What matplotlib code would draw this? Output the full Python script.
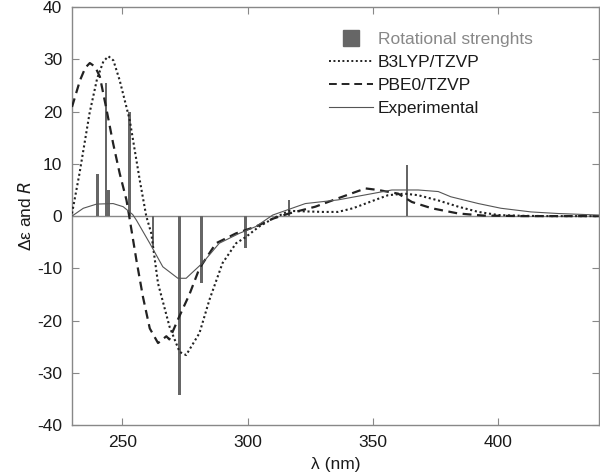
import matplotlib
matplotlib.use("Agg")
import matplotlib.pyplot as plt
from matplotlib.lines import Line2D

plt.rcParams['font.family'] = ['Liberation Sans', 'DejaVu Sans']
plt.rcParams['axes.unicode_minus'] = False

# rotational strengths (sticks)
stick_x = [240.2, 243.6, 244.6, 253.0, 262.3, 273.0, 281.6, 299.3, 316.5, 363.5]
stick_r = [8.0, 25.5, 5.0, 20.0, -6.0, -34.3, -12.9, -6.1, 3.1, 9.8]

# B3LYP/TZVP
b3lyp_x = [230, 233, 237, 240, 242.5, 244.5, 246.5, 249, 253, 257, 259.6, 261.6, 264.3,
           268.9, 272.9, 275.5, 280.8, 284.8, 290, 295.4, 299.3, 304.6, 310, 316.5, 323,
           330, 336, 342, 347, 352, 356, 362.5, 368, 376, 384, 392, 400, 410, 420, 440]
b3lyp_y = [0.5, 8.2, 19.7, 26.3, 29.6, 30.6, 29.8, 26, 18.4, 6.9, 0, -3.3, -12.9,
           -21.2, -26, -26.6, -22.4, -16, -9, -5.2, -4, -2, -0.5, 1, 0.9,
           0.8, 0.8, 1.5, 2.4, 3.3, 4, 4.3, 4, 3, 1.8, 0.8, 0.2, 0.05, 0, 0]

# PBE0/TZVP
pbe0_x = [230, 233.2, 235.3, 237.1, 239.2, 241.1, 243.8, 246.4, 249, 251.7, 252.8, 255.7,
          258.3, 261, 264.3, 267.6, 268.8, 272.5, 276.8, 280.8, 287.4, 295.4, 303.3, 310,
          316.5, 327, 336, 347, 352, 360, 365.5, 373.4, 384, 394, 410, 440]
pbe0_y = [20.9, 26, 28.4, 29.3, 28.6, 26.7, 20.3, 13.9, 8.2, 3.1, 0, -8.5,
          -15.5, -21.5, -24.3, -23, -23.6, -19.5, -15, -10, -5.2, -3.3, -2, -0.5,
          0.5, 1.8, 3.4, 5.3, 5, 4.3, 2.7, 1.5, 0.5, 0.1, 0, 0]

# Experimental
exp_x = [230, 234.5, 239.8, 246.4, 250.4, 254.2, 255.7, 261, 266.2, 272.2, 275.5, 277.5,
         282, 288.7, 296.7, 303.3, 310, 323, 336, 349.6, 357.5, 368, 376, 381, 392, 401,
         413, 423.6, 440]
exp_y = [0, 1.5, 2.3, 2.4, 1.8, 0.3, -0.8, -5.2, -9.7, -11.9, -11.9, -11,
         -9, -5.2, -3.3, -2, 0.2, 2.4, 3.1, 4.3, 5, 5, 4.7, 3.7, 2.4, 1.5,
         0.8, 0.5, 0.2]

xticks = [250, 300, 350, 400]
yticks = [-40, -30, -20, -10, 0, 10, 20, 30, 40]

fig = plt.figure(figsize=(6, 4.76), dpi=100)
ax = fig.add_axes([0.12, 0.107, 0.878, 0.878])

ax.axhline(0, color='#888888', lw=1.0, zorder=1)
ax.bar(stick_x, stick_r, width=1.1, color='#666666', zorder=2)
ax.plot(b3lyp_x, b3lyp_y, color='#222222', lw=1.5, ls=(0, (1, 1.3)), zorder=3)
ax.plot(pbe0_x, pbe0_y, color='#222222', lw=1.6, ls=(0, (4, 2.5)), zorder=3)
ax.plot(exp_x, exp_y, color='#555555', lw=0.8, zorder=3)

ax.set_xlim(230, 440)
ax.set_ylim(-40, 40)
ax.set_xticks(xticks)
ax.set_yticks(yticks)
ax.tick_params(direction='in', top=True, right=True, length=5, color='#888888',
               labelsize=12.5, labelcolor='#1a1a1a', pad=7)
ax.tick_params(axis='x', labeltop=False)
for s in ax.spines.values():
    s.set_color('#888888')
    s.set_linewidth(1.0)

ax.set_xlabel('λ (nm)', fontsize=12.5, color='#1a1a1a', labelpad=5)
ax.set_ylabel('Δε and $\\it{R}$', fontsize=12.5, color='#1a1a1a', labelpad=2)

handles = [
    Line2D([], [], marker='s', ls='none', color='#666666', markersize=11),
    Line2D([], [], color='#222222', lw=1.4, ls=(0, (1, 1.3))),
    Line2D([], [], color='#222222', lw=1.4, ls=(0, (4, 2.5))),
    Line2D([], [], color='#555555', lw=0.8),
]
labels = ['Rotational strenghts', 'B3LYP/TZVP', 'PBE0/TZVP', 'Experimental']
leg = ax.legend(handles, labels, loc='upper left', bbox_to_anchor=(0.475, 0.957),
                frameon=False, fontsize=12.5, handlelength=2.5, handletextpad=0.3,
                labelspacing=0.45, borderaxespad=0)
leg.get_texts()[0].set_color('#888888')
for t in leg.get_texts()[1:]:
    t.set_color('#1a1a1a')

fig.savefig('out.png', dpi=100)
